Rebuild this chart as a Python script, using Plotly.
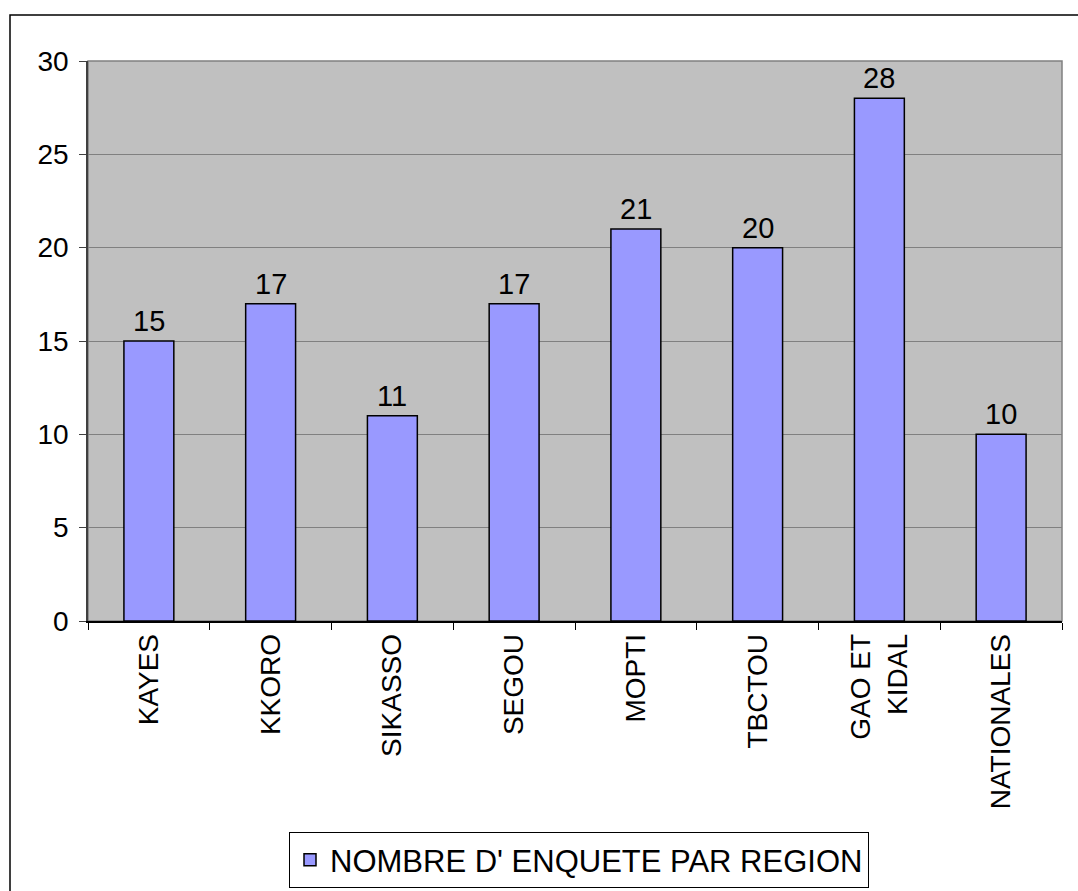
import plotly.graph_objects as go

categories = ["KAYES", "KKORO", "SIKASSO", "SEGOU", "MOPTI", "TBCTOU", "GAO ET<br>KIDAL", "NATIONALES"]
values = [15, 17, 11, 17, 21, 20, 28, 10]
series_name = "NOMBRE D' ENQUETE PAR REGION"
y_ticks = [0, 5, 10, 15, 20, 25, 30]

FONT = "Liberation Sans, Arial, sans-serif"

fig = go.Figure()
fig.add_trace(go.Bar(
    x=categories, y=values, name=series_name,
    marker=dict(color="#9999FF", line=dict(color="#000000", width=1.5)),
    showlegend=True,
))

L, R, T, B = 88, 16, 61, 270
W, H = 1078, 891
pw, ph = W - L - R, H - T - B

def px(x):
    return (x - L) / pw

def py(y):
    return (H - B - y) / ph

annotations = [
    dict(x=c, y=v, xref="x", yref="y", text=str(v), showarrow=False,
         yanchor="bottom", yshift=2, font=dict(size=29, color="#000000", family=FONT))
    for c, v in zip(categories, values)
]

fig.update_layout(
    width=W, height=H,
    margin=dict(l=L, r=R, t=T, b=B, autoexpand=False),
    paper_bgcolor="white", plot_bgcolor="#C0C0C0",
    font=dict(family=FONT, size=28, color="#000000"),
    bargap=0.59,
    showlegend=True,
    annotations=annotations,
    legend=dict(
        x=px(579), y=py(860), xanchor="center", yanchor="middle",
        orientation="h", bordercolor="#000000", borderwidth=1,
        bgcolor="white", font=dict(size=31, family=FONT),
    ),
    xaxis=dict(
        type="category", tickangle=-90, showgrid=False, automargin=False,
        ticks="outside", ticklen=7, tickcolor="#000000", tickson="boundaries",
        showline=True, linecolor="#000000", linewidth=1.5,
        tickfont=dict(size=28, family=FONT), range=[-0.5, 7.5],
    ),
    yaxis=dict(
        range=[0, 30], tickvals=y_ticks, showgrid=True, gridcolor="#808080", gridwidth=1,
        ticks="outside", ticklen=7, tickcolor="#404040", automargin=False,
        ticklabelstandoff=5,
        showline=True, linecolor="#404040", linewidth=1.5,
        tickfont=dict(size=28, family=FONT), zeroline=False,
    ),
    shapes=[
        dict(type="rect", xref="paper", yref="paper", x0=0, x1=1, y0=0, y1=1,
             line=dict(color="#808080", width=1.5), layer="below"),
        dict(type="rect", xref="paper", yref="paper", x0=px(10), x1=px(1085), y0=py(15), y1=py(900),
             line=dict(color="#000000", width=1.5)),
    ],
)

fig.write_html("out.html", config={"displayModeBar": False},
               post_script="document.body.style.margin='0';document.body.style.overflow='hidden';")
